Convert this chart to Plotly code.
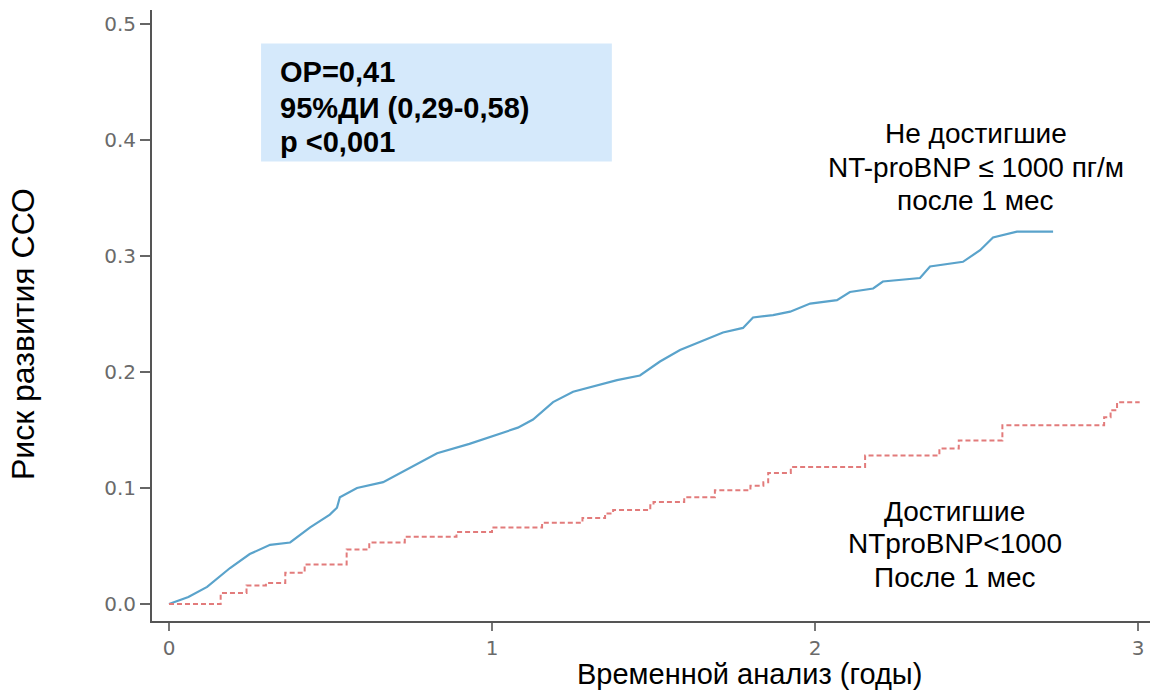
import plotly.graph_objects as go

# Cumulative risk, group that did not reach NT-proBNP <= 1000 after 1 month
t_not_reached = [0, 0.06, 0.118, 0.189, 0.25, 0.313, 0.375, 0.437, 0.498, 0.52, 0.529,
                 0.582, 0.663, 0.724, 0.83, 0.93, 1.025, 1.08, 1.127, 1.189, 1.251,
                 1.387, 1.458, 1.52, 1.582, 1.684, 1.715, 1.777, 1.808, 1.87, 1.923,
                 1.985, 2.068, 2.108, 2.18, 2.21, 2.325, 2.356, 2.458, 2.511, 2.551,
                 2.625, 2.737]
risk_not_reached = [0, 0.006, 0.0147, 0.031, 0.043, 0.051, 0.053, 0.066, 0.077, 0.083, 0.092,
                    0.100, 0.105, 0.114, 0.130, 0.138, 0.147, 0.152, 0.159, 0.174, 0.183,
                    0.193, 0.197, 0.209, 0.219, 0.230, 0.234, 0.238, 0.247, 0.249, 0.252,
                    0.259, 0.262, 0.269, 0.272, 0.278, 0.281, 0.291, 0.295, 0.305, 0.316,
                    0.321, 0.321]

# Cumulative risk, group that reached NT-proBNP < 1000 after 1 month
t_reached = [0, 0.16, 0.24, 0.30, 0.36, 0.42, 0.55, 0.62, 0.73, 0.89, 1.0, 1.155, 1.28,
             1.35, 1.375, 1.49, 1.5, 1.595, 1.69, 1.80, 1.84, 1.855, 1.925, 2.155, 2.385,
             2.445, 2.58, 2.895, 2.915, 2.935, 3.005]
risk_reached = [0, 0.0095, 0.016, 0.018, 0.027, 0.034, 0.047, 0.053, 0.058, 0.062, 0.066,
                0.070, 0.074, 0.078, 0.081, 0.085, 0.088, 0.092, 0.098, 0.102, 0.105, 0.113,
                0.118, 0.128, 0.134, 0.141, 0.154, 0.161, 0.167, 0.174, 0.174]

y_ticks = [0.0, 0.1, 0.2, 0.3, 0.4, 0.5]
x_ticks = [0, 1, 2, 3]

stats_lines = ["ОР=0,41", "95%ДИ (0,29-0,58)", "р &lt;0,001"]
not_reached_lines = ["Не достигшие", "NT-proBNP ≤ 1000 пг/м", "после 1 мес"]
reached_lines = ["Достигшие", "NTproBNP&lt;1000", "После 1 мес"]

fig = go.Figure()

fig.add_trace(go.Scatter(
    x=t_not_reached, y=risk_not_reached, mode="lines",
    line=dict(color="#5aa3cb", width=2.2),
    showlegend=False, hoverinfo="skip",
))
fig.add_trace(go.Scatter(
    x=t_reached, y=risk_reached, mode="lines",
    line=dict(color="#e27b7b", width=2, dash="5px,3px", shape="hv"),
    showlegend=False, hoverinfo="skip",
))

# Statistics box
fig.add_shape(type="rect", xref="x", yref="y",
              x0=0.285, x1=1.371, y0=0.3815, y1=0.4832,
              fillcolor="#d5e9fb", line=dict(width=0), layer="below")

text_font = "Liberation Sans, Arial, sans-serif"

for line, yv in zip(stats_lines, [0.4587, 0.4280, 0.3987]):
    fig.add_annotation(
        x=0.3375, y=yv, xref="x", yref="y", xanchor="left", yanchor="middle",
        text=f"<b>{line}</b>", showarrow=False,
        font=dict(family=text_font, size=29, color="#000000"),
    )

for line, yv in zip(not_reached_lines, [0.4053, 0.3765, 0.3478]):
    fig.add_annotation(
        x=2.498, y=yv, xref="x", yref="y", xanchor="center", yanchor="middle",
        text=line, showarrow=False,
        font=dict(family=text_font, size=28, color="#000000"),
    )

for line, yv in zip(reached_lines, [0.0797, 0.0521, 0.0228]):
    fig.add_annotation(
        x=2.433, y=yv, xref="x", yref="y", xanchor="center", yanchor="middle",
        text=line, showarrow=False,
        font=dict(family=text_font, size=28, color="#000000"),
    )

# Axis titles
fig.add_annotation(
    x=-0.129, y=0.47, xref="paper", yref="paper", xanchor="center", yanchor="middle",
    text="Риск развития ССО", textangle=-90, showarrow=False,
    font=dict(family=text_font, size=32, color="#000000"),
)
fig.add_annotation(
    x=0.599, y=-0.087, xref="paper", yref="paper", xanchor="center", yanchor="middle",
    text="Временной анализ (годы)", showarrow=False,
    font=dict(family=text_font, size=29, color="#000000"),
)

tick_font = dict(family="DejaVu Sans", size=20, color="#6a6a6a")

fig.update_layout(
    width=1157, height=693,
    margin=dict(l=152, r=7, t=10, b=72),
    paper_bgcolor="white", plot_bgcolor="white",
    xaxis=dict(
        range=[-0.0526, 3.037], tickvals=x_ticks, ticktext=[str(v) for v in x_ticks],
        showgrid=False, zeroline=False, showline=True, linecolor="#555555", linewidth=2,
        ticks="outside", ticklen=8, tickwidth=1.5, tickcolor="#777777",
        tickfont=tick_font, ticklabelstandoff=0,
    ),
    yaxis=dict(
        range=[-0.0147, 0.5121], tickvals=y_ticks, ticktext=[f"{v:.1f}" for v in y_ticks],
        showgrid=False, zeroline=False, showline=True, linecolor="#555555", linewidth=2,
        ticks="outside", ticklen=10, tickwidth=2, tickcolor="#666666",
        tickfont=tick_font,
    ),
)

fig.write_html("out.html")
